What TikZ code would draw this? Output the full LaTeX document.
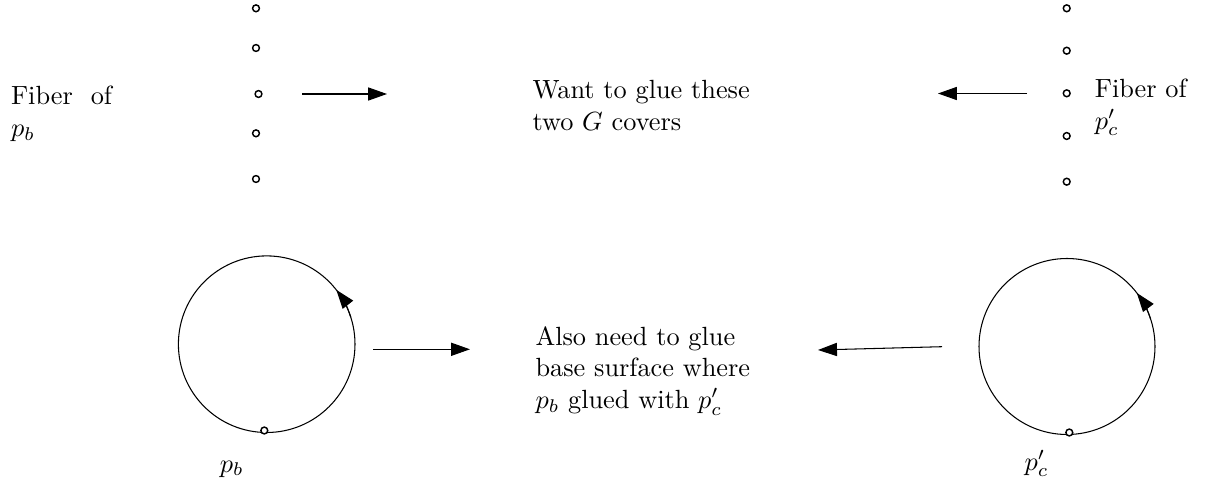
\documentclass[tikz,border=0pt]{standalone}
\usetikzlibrary{arrows.meta}
\begin{document}
\begin{tikzpicture}[x=0.38pt,y=-0.38pt,
  dot/.style={circle,draw,line width=0.55pt,inner sep=0pt,minimum size=2.6pt},
  lbl/.style={inner sep=0pt,align=left,anchor=north west},
  blbl/.style={inner sep=0pt,anchor=base west},
  arr/.style={line width=0.4pt,-{Triangle[length=7.2pt,width=5pt]}},
  ring/.style={line width=0.4pt}]
\useasboundingbox (0,0) rectangle (1217,494);
% left fiber
\node[dot] (l1) at (256,8.3) {};
\node[dot] (l2) at (256,48) {};
\node[dot] (l3) at (258.5,94) {};
\node[dot] (l4) at (256,133.3) {};
\node[dot] (l5) at (256,179) {};
% right fiber
\node[dot] (r1) at (1066.7,8.3) {};
\node[dot] (r2) at (1066.7,50.7) {};
\node[dot] (r3) at (1066.7,93.3) {};
\node[dot] (r4) at (1066.7,136) {};
\node[dot] (r5) at (1066.7,181.7) {};
% texts
\node[lbl] (lt) at (10.5,85.5) {Fiber\hspace{6.8pt}of\\$p_b$};
\node[lbl] (rt) at (1094.3,78.4) {Fiber of\\$p'_c$};
\node[lbl] (mt) at (532,80) {Want to glue these\\two $G$ covers};
\node[lbl] (mb) at (535,326) {Also need to glue\\base surface where\\$p_b$ glued with $p'_c$};
\node[blbl] (pb) at (219.3,472) {$p_b$};
\node[blbl] (pc) at (1024,470) {$p'_c$};
% top arrows
\coordinate (a1s) at (302,94);
\coordinate (a1e) at (387,94);
\coordinate (a2s) at (1027,93.5);
\coordinate (a2e) at (938,93.5);
\draw[arr] (a1s) -- (a1e);
\draw[arr] (a2s) -- (a2e);
% circles
\coordinate (cl) at (266.7,344.2);
\coordinate (cr) at (1067,346.5);
\draw[ring] (cl) circle[radius=88.3];
\draw[ring] (cr) circle[radius=88];
\draw[arr] ([shift={(-18:88.3)}]cl) arc[start angle=-18, end angle=-38, radius=88.3];
\draw[arr] ([shift={(-18:88)}]cr) arc[start angle=-18, end angle=-37.5, radius=88];
\node[dot,fill=white] (bl) at (264.3,430.5) {};
\node[dot,fill=white] (br) at (1069.3,432.5) {};
% bottom arrows
\coordinate (a3s) at (373,349.3);
\coordinate (a3e) at (470,349.3);
\coordinate (a4s) at (942,346.7);
\coordinate (a4e) at (818,350);
\draw[arr] (a3s) -- (a3e);
\draw[arr] (a4s) -- (a4e);
\end{tikzpicture}
\end{document}
